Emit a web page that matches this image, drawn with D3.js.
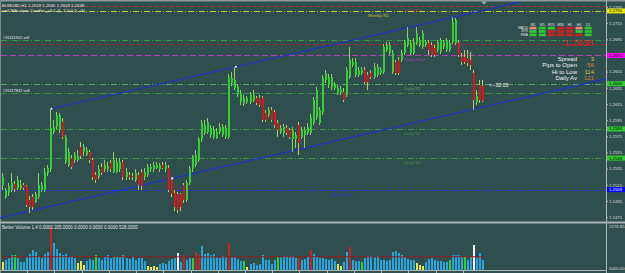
<!DOCTYPE html>
<html>
<head>
<meta charset="utf-8">
<script src="https://cdn.jsdelivr.net/npm/d3@7"></script>
<style>
  html, body { margin: 0; padding: 0; background: #2f4f4f; }
  svg { display: block; font-family: "Liberation Sans", Arial, sans-serif; }
</style>
</head>
<body>
<div id="chart"></div>
<script>
// EURUSD H1 candles [open, high, low, close]
const candles = [
  [1.2515,1.2530,1.2509,1.2525],[1.2500,1.2511,1.2498,1.2509],[1.2505,1.2517,1.2501,1.2513],[1.2509,1.2530,1.2506,1.2517],
  [1.2516,1.2520,1.2506,1.2510],[1.2511,1.2526,1.2509,1.2521],[1.2511,1.2521,1.2509,1.2515],[1.2515,1.2517,1.2508,1.2511],
  [1.2513,1.2515,1.2488,1.2490],[1.2496,1.2501,1.2480,1.2487],[1.2500,1.2503,1.2484,1.2487],[1.2494,1.2506,1.2492,1.2503],
  [1.2500,1.2530,1.2498,1.2515],[1.2509,1.2519,1.2506,1.2515],[1.2509,1.2536,1.2506,1.2531],[1.2529,1.2540,1.2526,1.2536],
  [1.2534,1.2609,1.2531,1.2585],[1.2580,1.2595,1.2578,1.2587],[1.2587,1.2605,1.2584,1.2601],[1.2583,1.2604,1.2579,1.2601],
  [1.2593,1.2598,1.2571,1.2574],[1.2543,1.2577,1.2541,1.2574],[1.2540,1.2561,1.2537,1.2556],[1.2548,1.2552,1.2534,1.2537],
  [1.2546,1.2556,1.2542,1.2552],[1.2546,1.2558,1.2543,1.2551],[1.2562,1.2568,1.2547,1.2550],[1.2555,1.2566,1.2551,1.2562],
  [1.2552,1.2562,1.2550,1.2558],[1.2556,1.2558,1.2542,1.2546],[1.2546,1.2548,1.2521,1.2524],[1.2527,1.2531,1.2517,1.2521],
  [1.2525,1.2540,1.2522,1.2534],[1.2537,1.2542,1.2527,1.2530],[1.2534,1.2546,1.2531,1.2540],[1.2534,1.2543,1.2531,1.2538],
  [1.2542,1.2546,1.2531,1.2534],[1.2531,1.2556,1.2529,1.2546],[1.2531,1.2548,1.2529,1.2543],[1.2534,1.2548,1.2531,1.2543],
  [1.2543,1.2546,1.2521,1.2524],[1.2525,1.2536,1.2521,1.2531],[1.2527,1.2531,1.2521,1.2524],[1.2526,1.2530,1.2521,1.2524],
  [1.2521,1.2534,1.2519,1.2530],[1.2527,1.2531,1.2509,1.2515],[1.2531,1.2534,1.2509,1.2513],[1.2525,1.2536,1.2521,1.2531],
  [1.2527,1.2541,1.2525,1.2537],[1.2534,1.2541,1.2531,1.2537],[1.2534,1.2543,1.2531,1.2540],[1.2536,1.2543,1.2534,1.2540],
  [1.2534,1.2542,1.2531,1.2540],[1.2540,1.2543,1.2534,1.2536],[1.2534,1.2543,1.2531,1.2540],[1.2536,1.2540,1.2506,1.2509],
  [1.2521,1.2525,1.2500,1.2503],[1.2505,1.2509,1.2482,1.2488],[1.2503,1.2506,1.2480,1.2484],[1.2503,1.2505,1.2483,1.2487],
  [1.2515,1.2517,1.2493,1.2496],[1.2496,1.2521,1.2494,1.2517],[1.2517,1.2538,1.2515,1.2534],[1.2534,1.2552,1.2531,1.2550],
  [1.2540,1.2558,1.2537,1.2552],[1.2546,1.2574,1.2543,1.2571],[1.2571,1.2595,1.2568,1.2592],[1.2579,1.2595,1.2577,1.2589],
  [1.2580,1.2598,1.2578,1.2593],[1.2577,1.2589,1.2573,1.2585],[1.2574,1.2588,1.2571,1.2583],[1.2573,1.2585,1.2571,1.2580],
  [1.2580,1.2592,1.2578,1.2587],[1.2577,1.2590,1.2574,1.2587],[1.2574,1.2589,1.2571,1.2585],[1.2574,1.2652,1.2572,1.2648],
  [1.2641,1.2655,1.2637,1.2647],[1.2635,1.2661,1.2632,1.2645],[1.2626,1.2640,1.2624,1.2636],[1.2617,1.2632,1.2614,1.2629],
  [1.2616,1.2626,1.2613,1.2622],[1.2617,1.2625,1.2615,1.2622],[1.2617,1.2630,1.2615,1.2626],[1.2620,1.2632,1.2617,1.2626],
  [1.2622,1.2625,1.2614,1.2616],[1.2622,1.2626,1.2611,1.2614],[1.2622,1.2625,1.2593,1.2595],[1.2604,1.2608,1.2593,1.2595],
  [1.2601,1.2611,1.2599,1.2608],[1.2608,1.2611,1.2593,1.2595],[1.2605,1.2608,1.2585,1.2589],[1.2592,1.2595,1.2574,1.2583],
  [1.2580,1.2589,1.2578,1.2585],[1.2579,1.2590,1.2574,1.2587],[1.2585,1.2589,1.2577,1.2579],[1.2583,1.2585,1.2571,1.2574],
  [1.2571,1.2587,1.2556,1.2583],[1.2571,1.2580,1.2561,1.2577],[1.2589,1.2593,1.2552,1.2567],[1.2574,1.2587,1.2571,1.2583],
  [1.2577,1.2587,1.2561,1.2583],[1.2579,1.2592,1.2577,1.2587],[1.2579,1.2603,1.2577,1.2599],[1.2592,1.2624,1.2589,1.2620],
  [1.2599,1.2636,1.2595,1.2632],[1.2592,1.2611,1.2589,1.2608],[1.2605,1.2651,1.2601,1.2647],[1.2645,1.2657,1.2641,1.2653],
  [1.2638,1.2652,1.2635,1.2648],[1.2636,1.2652,1.2632,1.2648],[1.2635,1.2642,1.2632,1.2638],[1.2629,1.2638,1.2626,1.2635],
  [1.2629,1.2637,1.2626,1.2634],[1.2630,1.2635,1.2617,1.2620],[1.2626,1.2661,1.2624,1.2657],[1.2648,1.2685,1.2646,1.2669],
  [1.2663,1.2672,1.2661,1.2667],[1.2651,1.2672,1.2648,1.2667],[1.2651,1.2661,1.2648,1.2657],[1.2653,1.2661,1.2651,1.2657],
  [1.2657,1.2661,1.2640,1.2642],[1.2651,1.2655,1.2632,1.2642],[1.2653,1.2657,1.2646,1.2648],[1.2648,1.2666,1.2646,1.2661],
  [1.2651,1.2664,1.2648,1.2661],[1.2653,1.2661,1.2651,1.2657],[1.2655,1.2689,1.2652,1.2685],[1.2682,1.2692,1.2679,1.2688],
  [1.2678,1.2692,1.2675,1.2688],[1.2655,1.2682,1.2652,1.2678],[1.2667,1.2669,1.2651,1.2653],[1.2669,1.2673,1.2651,1.2653],
  [1.2669,1.2682,1.2667,1.2678],[1.2678,1.2694,1.2675,1.2692],[1.2688,1.2710,1.2685,1.2696],[1.2678,1.2694,1.2675,1.2690],
  [1.2678,1.2696,1.2675,1.2692],[1.2690,1.2710,1.2688,1.2703],[1.2688,1.2698,1.2685,1.2694],[1.2685,1.2706,1.2683,1.2703],
  [1.2688,1.2694,1.2685,1.2692],[1.2690,1.2694,1.2675,1.2682],[1.2688,1.2692,1.2673,1.2675],[1.2684,1.2688,1.2673,1.2675],
  [1.2682,1.2694,1.2679,1.2692],[1.2679,1.2696,1.2677,1.2694],[1.2685,1.2694,1.2683,1.2692],[1.2682,1.2696,1.2679,1.2694],
  [1.2682,1.2694,1.2679,1.2690],[1.2692,1.2722,1.2689,1.2716],[1.2690,1.2721,1.2688,1.2719],[1.2690,1.2694,1.2673,1.2675],
  [1.2673,1.2678,1.2663,1.2667],[1.2673,1.2682,1.2664,1.2667],[1.2672,1.2682,1.2662,1.2666],[1.2669,1.2679,1.2657,1.2663],
  [1.2653,1.2657,1.2608,1.2620],[1.2617,1.2632,1.2614,1.2625],[1.2638,1.2645,1.2616,1.2620],[1.2637,1.2645,1.2617,1.2619]
];

// Better Volume values and bar type (b normal, r climax, y low, g churn, w climax+churn)
const volumes = [
  396,495,594,743,743,594,396,396,644,792,
  990,891,693,594,792,891,2150,1337,1040,842,
  743,792,644,693,594,347,446,248,446,545,
  495,743,594,495,644,743,594,693,693,644,
  743,594,545,644,495,594,594,446,198,149,
  198,149,297,347,297,446,545,594,842,396,
  743,495,594,594,891,743,1188,792,842,743,
  792,644,594,693,644,1337,644,644,545,446,
  446,149,297,347,248,297,743,495,495,297,
  495,644,644,693,693,644,693,594,594,495,
  545,644,990,792,644,594,594,545,495,545,
  446,297,198,396,891,1139,495,446,446,396,
  594,693,693,644,693,495,495,446,495,891,
  941,842,743,644,545,495,495,347,248,198,
  396,545,594,495,446,446,396,396,495,743,
  743,743,644,644,495,644,1238,594,842,495
];
const volType = ("ybbbgbbbbb" + "bbbbbbrbbb" + "bbbbbyyybb" + "bgbbbbbbbb" + "bbbbbbbbyy" +
                 "yybbbbbbwb" + "rbbgrrbbbb" + "bbbbbrbbbb" + "gybbbbbbbb" + "bgbbbbbbrb" +
                 "bbrbbbbbbb" + "byybbrbbbg" + "bbbbbbbbbb" + "bbbbbbbyyy" + "bbbbbbbbgb" +
                 "bbbgbbwbbb").split("");
const avgVol = [655, 660, 650, 645, 655, 660, 650, 655];

const priceTicks = [1.2475, 1.2495, 1.2515, 1.2535, 1.2555, 1.2575, 1.2595, 1.2615,
                    1.2635, 1.2655, 1.2675, 1.2695, 1.2715, 1.2735];
const volTicks = [2176.85, 0];

// horizontal levels
const levelNames  = ["Daily R1", "Weekly R1", "#31111902 sell", "SL", "Daily Pivot", "Daily S1",
                     "#31117842 sell", "Daily S2", "Daily S3", "Monthly S1"];
const levelPrices = [1.2736, 1.2730, 1.2694, 1.2689, 1.2675, 1.2640, 1.2629, 1.2584, 1.2548, 1.2509];

// trend channel anchors [candle index, price]
const trendUpper = [[16, 1.2609], [77, 1.2661]];
const trendLower = [[0, 1.2475], [56, 1.2523]];

// signal panel
const tfNames = ["M1", "M5", "M15", "M30", "H1", "H4", "D1"];
const sigRows = ["MACD", "STR", "EMA"];
const sigValues = ["pggrrpg", "ggrrrgg", "ggrrrrg"];
const infoLabels = ["Spread", "Pips to Open", "Hi to Low", "Daily Av"];
const infoValues = ["3", "-56", "114", "121"];
const bid = 1.2638;

const W = 625, H = 273, plotR = 606;

const svg = d3.select("#chart").append("svg")
    .attr("width", W).attr("height", H)
    .style("background", "#2f4f4f");

svg.append("defs").append("clipPath").attr("id", "clipMain")
  .append("rect").attr("x", 0).attr("y", 2).attr("width", plotR).attr("height", 219);

const n = candles.length;
const x = d3.scaleBand().domain(d3.range(n)).range([2, 485]).paddingInner(0.3);
const cx = i => x(i) + x.bandwidth() / 2;
const y = d3.scaleLinear().domain([1.2475, 1.2735]).range([217.1, 6.9]);
const yv = d3.scaleLinear().domain([0, 2176.85]).range([270, 226]);

// frame
svg.append("rect").attr("x", 0).attr("y", 0).attr("width", W).attr("height", 1.5).attr("fill", "#8e9a9a");
svg.append("line").attr("x1", 0.5).attr("x2", 0.5).attr("y1", 0).attr("y2", H).attr("stroke", "#7f8c8c");
svg.append("rect").attr("x", 0).attr("y", 221.5).attr("width", W).attr("height", 2).attr("fill", "#aab4b4");
svg.append("line").attr("x1", plotR + 0.5).attr("x2", plotR + 0.5).attr("y1", 0).attr("y2", H).attr("stroke", "#aab4b4");
svg.append("line").attr("x1", 0).attr("x2", plotR).attr("y1", 270.5).attr("y2", 270.5).attr("stroke", "#aab4b4");
svg.append("g").selectAll("line").data(d3.range(8, n, 9)).join("line")
    .attr("x1", i => Math.round(cx(i)) + 0.5).attr("x2", i => Math.round(cx(i)) + 0.5)
    .attr("y1", 270.5).attr("y2", 273).attr("stroke", "#aab4b4");

// shift marker
svg.append("path").attr("d", "M481,1.5 L487,1.5 L484,4.5 Z").attr("fill", "#a0a8a8");

// levels
const lvStyle = {
  "Daily R1":       {c: "#b83030", dash: "4,3"},
  "Weekly R1":      {c: "#c8c83c", dash: "6,2,1,2", box: "#e6e600"},
  "#31111902 sell": {c: "#3c963c", dash: "6,2,1,2", order: true},
  "SL":             {c: "#a02c2c", dash: "5,3"},
  "Daily Pivot":    {c: "#b040b0", dash: "6,3", box: "#ff00ff"},
  "Daily S1":       {c: "#5aa85a", dash: "6,2,1,2", box: "#32cd32"},
  "#31117842 sell": {c: "#3c963c", dash: "6,2,1,2", order: true},
  "Daily S2":       {c: "#3c963c", dash: "6,2,1,2", box: "#32cd32"},
  "Daily S3":       {c: "#3c963c", dash: "6,2,1,2", box: "#32cd32"},
  "Monthly S1":     {c: "#2038c8", dash: "6,2,1,2", box: "#0000ff", light: true}
};
const labelAt = {"Daily": 133, "Weekly": 121, "Monthly": 109};

const lv = svg.append("g");
levelNames.forEach((name, k) => {
  const st = lvStyle[name], yy = Math.round(y(levelPrices[k])) + 0.5;
  lv.append("line").attr("x1", 1).attr("x2", plotR).attr("y1", yy).attr("y2", yy)
    .attr("stroke", st.c).attr("stroke-width", 1).attr("stroke-dasharray", st.dash);
  if (st.order) {
    lv.append("text").attr("x", 3).attr("y", yy - 1.5).attr("font-size", "4px")
      .attr("fill", "#e8e8e8").text(name);
  } else if (name !== "SL") {
    const key = name.split(" ")[0];
    lv.append("text").attr("x", x(labelAt[key])).attr("y", yy + 5).attr("font-size", "4.3px")
      .attr("fill", st.c).text(name);
  }
});

// trend channel
const trend = svg.append("g").attr("clip-path", "url(#clipMain)");
[trendUpper, trendLower].forEach(t => {
  const x1 = cx(t[0][0]), y1 = y(t[0][1]), x2 = cx(t[1][0]), y2 = y(t[1][1]);
  const s = (y2 - y1) / (x2 - x1);
  const xa = t === trendLower ? 0 : x1;
  trend.append("line").attr("x1", xa).attr("y1", y1 + s * (xa - x1))
    .attr("x2", plotR).attr("y2", y1 + s * (plotR - x1))
    .attr("stroke", "#1e32c0").attr("stroke-width", 1.2);
});
trend.selectAll("circle").data([trendUpper[0], trendUpper[1], trendLower[1]]).join("circle")
    .attr("cx", d => cx(d[0])).attr("cy", d => y(d[1])).attr("r", 1).attr("fill", "#f0f0ff");

// candles
const cg = svg.append("g").attr("clip-path", "url(#clipMain)").attr("shape-rendering", "crispEdges");
const cs = cg.selectAll("g").data(candles).join("g");
cs.append("line")
    .attr("x1", (d, i) => Math.floor(x(i)) + 0.5).attr("x2", (d, i) => Math.floor(x(i)) + 0.5)
    .attr("y1", d => y(d[1])).attr("y2", d => y(d[2]))
    .attr("stroke", d => d[3] >= d[0] ? "#8ad060" : "#c8c060");
cs.append("rect")
    .attr("x", (d, i) => Math.floor(x(i)))
    .attr("width", 2)
    .attr("y", d => y(Math.max(d[0], d[3])))
    .attr("height", d => Math.max(1, Math.abs(y(d[0]) - y(d[3]))))
    .attr("fill", d => d[3] >= d[0] ? "#38cc38" : "#cc1c1c");

// price axis
const ax = svg.append("g").attr("transform", `translate(${plotR},0)`)
    .call(d3.axisRight(y).tickValues(priceTicks).tickSize(2).tickSizeOuter(0).tickFormat(d3.format(".4f")));
ax.select(".domain").remove();
ax.selectAll("line").attr("stroke", "#aab4b4");
ax.selectAll("text").attr("fill", "#dcdcdc").attr("font-size", "4.3px").attr("x", 3)
  .attr("font-family", "Liberation Sans, Arial, sans-serif");

// level price boxes on the axis (they cover the tick label underneath)
levelNames.forEach((name, k) => {
  const st = lvStyle[name];
  if (!st.box) return;
  const yy = y(levelPrices[k]);
  ax.selectAll(".tick").filter(d => Math.abs(y(d) - yy) < 2).select("text").remove();
  svg.append("rect").attr("x", plotR + 1).attr("y", yy - 2.5).attr("width", 18).attr("height", 5).attr("fill", st.box);
  svg.append("text").attr("x", plotR + 3).attr("y", yy + 1.5).attr("font-size", "4.3px")
    .attr("fill", st.light ? "#ffffff" : "#000000").text(d3.format(".4f")(levelPrices[k]));
});

// titles
svg.append("text").attr("x", 2).attr("y", 6.5).attr("font-size", "4.3px").attr("fill", "#e6e6e6")
  .text("EURUSD,H1  1.2619 1.2645 1.2618 1.2638");
svg.append("text").attr("x", 2).attr("y", 11.5).attr("font-size", "4.3px").attr("fill", "#e6e6e6")
  .text("smCHScalper Candles_v3.1 (1, 0,0,0,0, -G)");

// countdown and price
svg.append("text").attr("x", 489).attr("y", y(bid) + 1.8).attr("font-size", "5.2px").attr("fill", "#f0f0f0")
  .text("<--32:05");
svg.append("text").attr("x", 593).attr("y", 45.5).attr("text-anchor", "end").attr("font-size", "9.5px")
  .attr("fill", "#e01818").text(d3.format(".4f")(bid));

// signal grid
const sigCol = {g: "#2ecc2e", r: "#d02020", p: "#f08878"};
const grid = svg.append("g");
tfNames.forEach((t, j) => {
  grid.append("text").attr("x", 533 + j * 9.2).attr("y", 25.5).attr("text-anchor", "middle")
    .attr("font-size", "3.4px").attr("fill", "#e0e0e0").text(t);
});
sigRows.forEach((r, k) => {
  grid.append("text").attr("x", 528).attr("y", 29 + k * 3.4).attr("text-anchor", "end")
    .attr("font-size", "3.4px").attr("fill", "#e0e0e0").text(r);
  sigValues[k].split("").forEach((s, j) => {
    grid.append("rect").attr("x", 529.5 + j * 9.2).attr("y", 26.8 + k * 3.4)
      .attr("width", 7).attr("height", 2.6).attr("fill", sigCol[s]);
  });
});

// info text
const infoCol = ["#d8c050", "#d88040", "#d8c050", "#d88040"];
infoLabels.forEach((t, k) => {
  svg.append("text").attr("x", 577).attr("y", 60.5 + k * 6.6).attr("text-anchor", "end")
    .attr("font-size", "6px").attr("fill", "#f0f0f0").text(t);
  svg.append("text").attr("x", 594).attr("y", 60.5 + k * 6.6).attr("text-anchor", "end")
    .attr("font-size", "6px").attr("fill", infoCol[k]).text(infoValues[k]);
});

// volume panel
const vCol = {b: "#28a4dc", r: "#c82424", y: "#e6e650", g: "#2ed02e", w: "#f4f4f4"};
svg.append("g").attr("shape-rendering", "crispEdges").selectAll("rect").data(volumes).join("rect")
    .attr("x", (d, i) => Math.floor(x(i)))
    .attr("width", 2)
    .attr("y", d => yv(d))
    .attr("height", d => 270 - yv(d))
    .attr("fill", (d, i) => vCol[volType[i]]);

const avgPts = avgVol.map((v, k) => [x(k * 20), yv(v)]);
avgPts.push([x(n - 1) + 2, yv(avgVol[avgVol.length - 1])]);
svg.append("path").attr("d", d3.line().curve(d3.curveStepAfter)(avgPts))
    .attr("fill", "none").attr("stroke", "#8e1e1e").attr("stroke-width", 1);

svg.append("text").attr("x", 2).attr("y", 229).attr("font-size", "4.5px").attr("fill", "#e0e0e0")
  .text("Better Volume 1.4 0.0000 205.0000 0.0000 0.0000 0.0000 528.0000");

svg.append("g").selectAll("text").data(volTicks).join("text")
    .attr("x", plotR + 3).attr("y", d => yv(d) + (d > 0 ? 2 : -0.5))
    .attr("font-size", "4.3px").attr("fill", "#dcdcdc")
    .text(d => d3.format("07.2f")(d));
</script>
</body>
</html>
